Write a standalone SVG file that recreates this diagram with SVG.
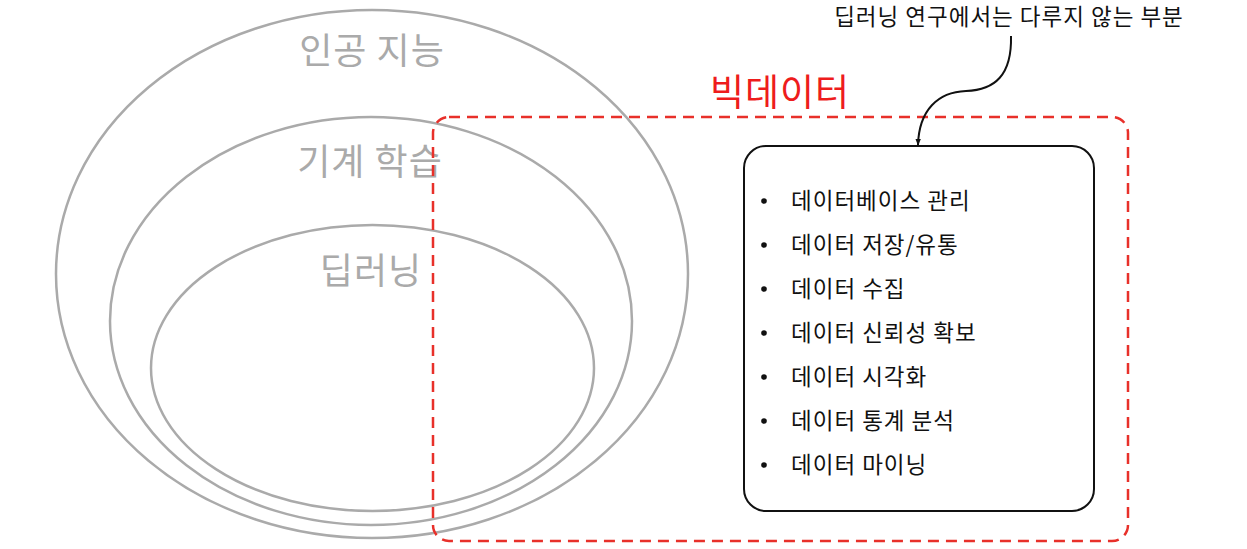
<svg xmlns="http://www.w3.org/2000/svg" width="1247" height="549" viewBox="0 0 1247 549">
<style>
.ell{fill:none;stroke:#aaaaaa;stroke-width:2.5}
.gl{font-family:"Noto Sans CJK KR","Noto Sans",sans-serif;fill:#aaaaaa;font-size:36px;letter-spacing:1px}
.it{font-family:"Noto Sans CJK KR","Noto Sans",sans-serif;fill:#111;font-size:22.5px;letter-spacing:1px}
.bl{fill:#111}
</style>
<defs>
<marker id="ah" viewBox="0 0 10 10" refX="9" refY="5" markerWidth="7" markerHeight="7" orient="auto" markerUnits="userSpaceOnUse">
<path d="M0,1 L10,5 L0,9 Z" fill="#111"/>
</marker>
</defs>
<rect width="1247" height="549" fill="#fff"/>
<g id="ai">
<ellipse class="ell" cx="372" cy="274" rx="316" ry="264"/>
<text class="gl" x="372" y="64" text-anchor="middle">인공 지능</text>
</g>
<g id="ml">
<ellipse class="ell" cx="371" cy="321" rx="261" ry="204"/>
<text class="gl" x="370" y="175" text-anchor="middle">기계 학습</text>
</g>
<g id="dl">
<ellipse class="ell" cx="372.5" cy="368" rx="221.5" ry="143"/>
<text class="gl" x="371" y="284" text-anchor="middle">딥러닝</text>
</g>
<g id="bigdata">
<rect x="433" y="117" width="695" height="424" rx="16" fill="none" stroke="#e8302a" stroke-width="2.5" stroke-dasharray="11 7"/>
<text x="780" y="106" text-anchor="middle" font-family="Noto Sans CJK KR,sans-serif" font-size="37" letter-spacing="1" fill="#ee1c1c">빅데이터</text>
</g>
<g id="list">
<rect x="744" y="146" width="350" height="365" rx="22" fill="#fff" stroke="#111" stroke-width="2"/>
<circle class="bl" cx="764" cy="201" r="2.8"/><text class="it" x="791" y="209">데이터베이스 관리</text>
<circle class="bl" cx="764" cy="245" r="2.8"/><text class="it" x="791" y="253">데이터 저장/유통</text>
<circle class="bl" cx="764" cy="289" r="2.8"/><text class="it" x="791" y="297">데이터 수집</text>
<circle class="bl" cx="764" cy="333" r="2.8"/><text class="it" x="791" y="341">데이터 신뢰성 확보</text>
<circle class="bl" cx="764" cy="377" r="2.8"/><text class="it" x="791" y="385">데이터 시각화</text>
<circle class="bl" cx="764" cy="421" r="2.8"/><text class="it" x="791" y="429">데이터 통계 분석</text>
<circle class="bl" cx="764" cy="465" r="2.8"/><text class="it" x="791" y="473">데이터 마이닝</text>
</g>
<g id="note">
<text class="it" x="1009" y="25" text-anchor="middle" font-size="23" letter-spacing="1.6">딥러닝 연구에서는 다루지 않는 부분</text>
</g>
<g id="connectors">
<path d="M1011,36 C1012,75 995,90 966,91 C938,92 919,110 918,145" fill="none" stroke="#111" stroke-width="2" marker-end="url(#ah)"/>
</g>
</svg>
